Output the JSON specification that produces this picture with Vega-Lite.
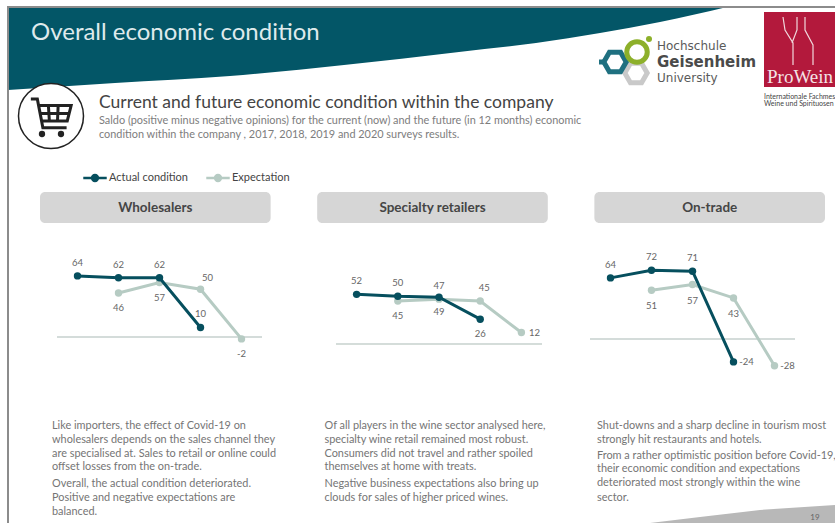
{
"$schema":"https://vega.github.io/schema/vega-lite/v6.json",
"padding":0,
"background":"white",
"spacing":0,
"config":{"view":{"stroke":null},"axis":{"disable":true},"font":"Lato","text":{"font":"Lato"}},
"datasets":{
"rows":[
{"sector":"Wholesalers","year":2017,"series":"Actual condition","value":64,"pos":"above"},
{"sector":"Wholesalers","year":2018,"series":"Actual condition","value":62,"pos":"above"},
{"sector":"Wholesalers","year":2019,"series":"Actual condition","value":62,"pos":"above"},
{"sector":"Wholesalers","year":2020,"series":"Actual condition","value":10,"pos":"above"},
{"sector":"Wholesalers","year":2018,"series":"Expectation","value":46,"pos":"below"},
{"sector":"Wholesalers","year":2019,"series":"Expectation","value":57,"pos":"below"},
{"sector":"Wholesalers","year":2020,"series":"Expectation","value":50,"pos":"upright"},
{"sector":"Wholesalers","year":2021,"series":"Expectation","value":-2,"pos":"below"},
{"sector":"Specialty retailers","year":2017,"series":"Actual condition","value":52,"pos":"above"},
{"sector":"Specialty retailers","year":2018,"series":"Actual condition","value":50,"pos":"above"},
{"sector":"Specialty retailers","year":2019,"series":"Actual condition","value":49,"pos":"below"},
{"sector":"Specialty retailers","year":2020,"series":"Actual condition","value":26,"pos":"below"},
{"sector":"Specialty retailers","year":2018,"series":"Expectation","value":45,"pos":"below"},
{"sector":"Specialty retailers","year":2019,"series":"Expectation","value":47,"pos":"above"},
{"sector":"Specialty retailers","year":2020,"series":"Expectation","value":45,"pos":"upright"},
{"sector":"Specialty retailers","year":2021,"series":"Expectation","value":12,"pos":"right"},
{"sector":"On-trade","year":2017,"series":"Actual condition","value":64,"pos":"above"},
{"sector":"On-trade","year":2018,"series":"Actual condition","value":72,"pos":"above"},
{"sector":"On-trade","year":2019,"series":"Actual condition","value":71,"pos":"above"},
{"sector":"On-trade","year":2020,"series":"Actual condition","value":-24,"pos":"right"},
{"sector":"On-trade","year":2018,"series":"Expectation","value":51,"pos":"below"},
{"sector":"On-trade","year":2019,"series":"Expectation","value":57,"pos":"below"},
{"sector":"On-trade","year":2020,"series":"Expectation","value":43,"pos":"below"},
{"sector":"On-trade","year":2021,"series":"Expectation","value":-28,"pos":"right"}
],
"sectors":[{"sector":"Wholesalers"},{"sector":"Specialty retailers"},{"sector":"On-trade"}],
"notes":[
{"sector":"Wholesalers","line":1,"text":"Like importers, the effect of Covid-19 on"},
{"sector":"Wholesalers","line":2,"text":"wholesalers depends on the sales channel they"},
{"sector":"Wholesalers","line":3,"text":"are specialised at. Sales to retail or online could"},
{"sector":"Wholesalers","line":4,"text":"offset losses from the on-trade."},
{"sector":"Wholesalers","line":5.2,"text":"Overall, the actual condition deteriorated."},
{"sector":"Wholesalers","line":6.2,"text":"Positive and negative expectations are"},
{"sector":"Wholesalers","line":7.2,"text":"balanced."},
{"sector":"Specialty retailers","line":1,"text":"Of all players in the wine sector analysed here,"},
{"sector":"Specialty retailers","line":2,"text":"specialty wine retail remained most robust."},
{"sector":"Specialty retailers","line":3,"text":"Consumers did not travel and rather spoiled"},
{"sector":"Specialty retailers","line":4,"text":"themselves at home with treats."},
{"sector":"Specialty retailers","line":5.2,"text":"Negative business expectations also bring up"},
{"sector":"Specialty retailers","line":6.2,"text":"clouds for sales of higher priced wines."},
{"sector":"On-trade","line":1,"text":"Shut-downs and a sharp decline in tourism most"},
{"sector":"On-trade","line":2,"text":"strongly hit restaurants and hotels."},
{"sector":"On-trade","line":3.15,"text":"From a rather optimistic position before Covid-19,"},
{"sector":"On-trade","line":4.15,"text":"their economic condition and expectations"},
{"sector":"On-trade","line":5.15,"text":"deteriorated most strongly within the wine"},
{"sector":"On-trade","line":6.2,"text":"sector."}
]
},
"vconcat":[
{"width":835,"height":192,
"layer":[
{"data":{"values":[{"sx":8,"sy":90},{"sx":115,"sy":83},{"sx":230,"sy":76},{"sx":344,"sy":65},{"sx":459,"sy":52},{"sx":536,"sy":43},{"sx":600,"sy":33},{"sx":660,"sy":22},{"sx":727,"sy":7}]},
 "mark":{"type":"area","color":"#035667","interpolate":"monotone"},
 "encoding":{"x":{"field":"sx","type":"quantitative","scale":{"domain":[0,835],"nice":false,"zero":false}},
 "y":{"field":"sy","type":"quantitative","scale":{"domain":[0,192],"reverse":true,"nice":false,"zero":false}},
 "y2":{"datum":7}}},
{"data":{"values":[{"part":"frame"}]},"mark":{"type":"rect","color":"#8c8c8c"},
 "encoding":{"x":{"datum":7,"type":"quantitative"},"x2":{"datum":835},"y":{"datum":6,"type":"quantitative"},"y2":{"datum":8}}},
{"data":{"values":[{"part":"frame"}]},"mark":{"type":"rect","color":"#8c8c8c"},
 "encoding":{"x":{"datum":7,"type":"quantitative"},"x2":{"datum":9},"y":{"datum":6,"type":"quantitative"},"y2":{"datum":192}}},
{"data":{"values":[{"sx":51,"sy":116}]},"mark":{"type":"point","shape":"circle","filled":true,"fill":"white","stroke":"#222222","strokeWidth":1.5,"size":4225,"opacity":1},
 "encoding":{"x":{"field":"sx","type":"quantitative"},"y":{"field":"sy","type":"quantitative"}}},
{"data":{"values":[{"sx":51,"sy":116}]},"mark":{"type":"point","shape":"M-0.62,-0.52L-0.42,-0.52L-0.25,0.36L0.48,0.36M-0.38,-0.32L0.62,-0.32L0.5,0.15L-0.29,0.15ZM-0.08,-0.32L-0.05,0.15M0.22,-0.32L0.2,0.15M-0.34,-0.08L0.57,-0.08","filled":false,"stroke":"#222222","strokeWidth":3,"size":4225,"opacity":1},
 "encoding":{"x":{"field":"sx","type":"quantitative"},"y":{"field":"sy","type":"quantitative"}}},
{"data":{"values":[{"sx":42,"sy":134},{"sx":61,"sy":134}]},"mark":{"type":"point","shape":"circle","filled":true,"color":"#222222","size":40,"opacity":1},
 "encoding":{"x":{"field":"sx","type":"quantitative"},"y":{"field":"sy","type":"quantitative"}}},
{"data":{"values":[{"sx":31,"sy":33,"label":"Overall economic condition"}]},"mark":{"type":"text","align":"left","baseline":"middle","fontSize":24,"color":"#dfeaec","font":"Lato"},
 "encoding":{"x":{"field":"sx","type":"quantitative"},"y":{"field":"sy","type":"quantitative"},"text":{"field":"label"}}},
{"data":{"values":[{"sx":99,"sy":103,"label":"Current and future economic condition within the company"}]},"mark":{"type":"text","align":"left","baseline":"middle","fontSize":17.5,"color":"#444444","font":"Lato"},
 "encoding":{"x":{"field":"sx","type":"quantitative"},"y":{"field":"sy","type":"quantitative"},"text":{"field":"label"}}},
{"data":{"values":[{"sx":99,"sy":121,"label":"Saldo (positive minus negative opinions) for the current (now) and the future (in 12 months) economic"},{"sx":99,"sy":135,"label":"condition within the company , 2017, 2018, 2019 and 2020 surveys results."}]},"mark":{"type":"text","align":"left","baseline":"middle","fontSize":10.9,"color":"#7d7d7d","font":"Lato"},
 "encoding":{"x":{"field":"sx","type":"quantitative"},"y":{"field":"sy","type":"quantitative"},"text":{"field":"label"}}},
{"data":{"values":[{"sx":636,"sy":73}]},"mark":{"type":"point","shape":"M-1,0L-0.5,-0.866L0.5,-0.866L1,0L0.5,0.866L-0.5,0.866Z","filled":false,"stroke":"#c9c9c9","strokeWidth":5,"size":500,"opacity":1},
 "encoding":{"x":{"field":"sx","type":"quantitative"},"y":{"field":"sy","type":"quantitative"}}},
{"data":{"values":[{"sx":599,"sx2":606,"sy":62}]},"mark":{"type":"rule","color":"#1f7080","strokeWidth":5},
 "encoding":{"x":{"field":"sx","type":"quantitative"},"x2":{"field":"sx2"},"y":{"field":"sy","type":"quantitative"}}},
{"data":{"values":[{"sx":615,"sy":62}]},"mark":{"type":"point","shape":"M-1,0L-0.5,-0.866L0.5,-0.866L1,0L0.5,0.866L-0.5,0.866Z","filled":false,"stroke":"#1f7080","strokeWidth":5,"size":500,"opacity":1},
 "encoding":{"x":{"field":"sx","type":"quantitative"},"y":{"field":"sy","type":"quantitative"}}},
{"data":{"values":[{"sx":637,"sy":52}]},"mark":{"type":"point","shape":"circle","filled":false,"stroke":"#8db02a","strokeWidth":5,"size":420,"opacity":1},
 "encoding":{"x":{"field":"sx","type":"quantitative"},"y":{"field":"sy","type":"quantitative"}}},
{"data":{"values":[{"sx":649,"sy":39}]},"mark":{"type":"point","shape":"circle","filled":true,"color":"#8db02a","size":36,"opacity":1},
 "encoding":{"x":{"field":"sx","type":"quantitative"},"y":{"field":"sy","type":"quantitative"}}},
{"data":{"values":[{"sx":657,"sy":46,"label":"Hochschule"},{"sx":657,"sy":78,"label":"University"}]},"mark":{"type":"text","align":"left","baseline":"middle","fontSize":12,"color":"#5a5a5a","font":"DejaVu Sans"},
 "encoding":{"x":{"field":"sx","type":"quantitative"},"y":{"field":"sy","type":"quantitative"},"text":{"field":"label"}}},
{"data":{"values":[{"sx":657,"sy":62,"label":"Geisenheim"}]},"mark":{"type":"text","align":"left","baseline":"middle","fontSize":15,"fontWeight":"bold","color":"#4a4a4a","font":"DejaVu Sans"},
 "encoding":{"x":{"field":"sx","type":"quantitative"},"y":{"field":"sy","type":"quantitative"},"text":{"field":"label"}}},
{"data":{"values":[{"sx":764,"sx2":835,"sy":12,"sy2":87}]},"mark":{"type":"rect","color":"#b3193c"},
 "encoding":{"x":{"field":"sx","type":"quantitative"},"x2":{"field":"sx2"},"y":{"field":"sy","type":"quantitative"},"y2":{"field":"sy2"}}},
{"data":{"values":[{"sx":798,"sy":40}]},"mark":{"type":"point","shape":"M-0.375,-0.575L-0.325,-0.25L-0.125,0.075L-0.125,0.625M-0.025,-0.575L-0.025,-0.25L-0.15,0.075M0.175,-0.575L0.175,-0.25L0.375,0.125L0.375,0.625","filled":false,"stroke":"#f0d8dc","strokeWidth":1.2,"size":6400,"opacity":1},
 "encoding":{"x":{"field":"sx","type":"quantitative"},"y":{"field":"sy","type":"quantitative"}}},
{"data":{"values":[{"sx":767,"sy":77,"label":"ProWein"}]},"mark":{"type":"text","align":"left","baseline":"middle","fontSize":19,"color":"#f4e3e6","font":"Liberation Serif"},
 "encoding":{"x":{"field":"sx","type":"quantitative"},"y":{"field":"sy","type":"quantitative"},"text":{"field":"label"}}},
{"data":{"values":[{"sx":764,"sy":97,"label":"Internationale Fachmess"},{"sx":764,"sy":104,"label":"Weine und Spirituosen"}]},"mark":{"type":"text","align":"left","baseline":"middle","fontSize":7,"color":"#444444","font":"Lato"},
 "encoding":{"x":{"field":"sx","type":"quantitative"},"y":{"field":"sy","type":"quantitative"},"text":{"field":"label"}}}
]},
{"width":835,"height":31,
"resolve":{"scale":{"x":"independent"}},
"layer":[
{"data":{"values":[{"part":"frame"}]},"mark":{"type":"rect","color":"#8c8c8c"},
 "encoding":{"x":{"datum":7,"type":"quantitative","scale":{"domain":[0,835],"nice":false,"zero":false}},"x2":{"datum":9}}},
{"data":{"name":"sectors"},"mark":{"type":"rect","color":"#d6d6d6","cornerRadius":5},
 "encoding":{"x":{"field":"sector","type":"nominal","sort":null,"scale":{"type":"band","domain":["Wholesalers","Specialty retailers","On-trade"],"range":[40,825],"paddingInner":0.168,"paddingOuter":0}}}},
{"data":{"name":"sectors"},"mark":{"type":"text","fontSize":13.5,"fontWeight":"bold","color":"#454545","font":"Lato"},
 "encoding":{"x":{"field":"sector","type":"nominal","sort":null,"scale":{"type":"band","domain":["Wholesalers","Specialty retailers","On-trade"],"range":[40,825],"paddingInner":0.168,"paddingOuter":0}},"text":{"field":"sector"}}}
]},
{"hconcat":[
{"width":278,"height":175,
"data":{"name":"rows"},
"transform":[{"filter":"datum.sector==='Wholesalers'"}],
"encoding":{"x":{"field":"year","type":"quantitative","scale":{"domain":[2016.5,2021.5],"range":[57,262],"nice":false,"zero":false}},
"y":{"field":"value","type":"quantitative","scale":{"domain":[-63.9,119.4],"nice":false,"zero":false}}},
"layer":[
{"mark":{"type":"rect","color":"#8c8c8c"},"encoding":{"x":{"datum":2015.281,"type":"quantitative"},"x2":{"datum":2015.33},"y":{"value":0},"y2":{"value":175}}},
{"mark":{"type":"rule","color":"#d4dcd9","strokeWidth":1.2},"encoding":{"x":{"datum":2016.5,"type":"quantitative","axis":{"disable":false,"values":[2017,2018,2019,2020,2021],"format":"d","title":null,"ticks":false,"domain":false,"grid":false,"labels":true,"labelFont":"Lato","labelFontSize":9,"labelColor":"#6e6e6e","labelPadding":0,"offset":-23}},"x2":{"datum":2021.5},"y":{"datum":0,"type":"quantitative"}}},
{"transform":[{"filter":"datum.series==='Expectation'"}],"mark":{"type":"line","strokeWidth":3,"point":{"size":55,"filled":true,"opacity":1}},
 "encoding":{"color":{"field":"series","type":"nominal","scale":{"domain":["Actual condition","Expectation"],"range":["#064f5e","#b6cbc3"]},"legend":{"orient":"none","legendX":82,"legendY":165,"direction":"horizontal","title":null,"labelFont":"Lato","labelFontSize":11,"labelColor":"#444444","symbolType":"M-1,0L-0.25,0A0.25,0.25 0 1,1 0.25,0A0.25,0.25 0 1,1 -0.25,0M0.25,0L1,0","symbolSize":550,"symbolStrokeWidth":2.5,"columnPadding":13,"labelOffset":1}}}},
{"transform":[{"filter":"datum.series==='Actual condition'"}],"mark":{"type":"line","strokeWidth":3,"point":{"size":55,"filled":true,"opacity":1}},
 "encoding":{"color":{"field":"series","type":"nominal"}}},
{"transform":[{"filter":"datum.pos==='above'"}],"mark":{"type":"text","dy":-13,"fontSize":9.5,"color":"#666666","font":"Lato"},"encoding":{"text":{"field":"value"}}},
{"transform":[{"filter":"datum.pos==='upright'"}],"mark":{"type":"text","dy":-11,"dx":7,"fontSize":9.5,"color":"#666666","font":"Lato"},"encoding":{"text":{"field":"value"}}},
{"transform":[{"filter":"datum.pos==='below'"}],"mark":{"type":"text","dy":15,"fontSize":9.5,"color":"#666666","font":"Lato"},"encoding":{"text":{"field":"value"}}},
{"transform":[{"filter":"datum.pos==='right'"}],"mark":{"type":"text","dx":13,"fontSize":9.5,"color":"#666666","font":"Lato"},"encoding":{"text":{"field":"value"}}}
]},
{"width":277,"height":175,
"data":{"name":"rows"},
"transform":[{"filter":"datum.sector==='Specialty retailers'"}],
"encoding":{"x":{"field":"year","type":"quantitative","scale":{"domain":[2016.5,2021.5],"range":[58,264],"nice":false,"zero":false}},
"y":{"field":"value","type":"quantitative","scale":{"domain":[-56.5,126.7],"nice":false,"zero":false}}},
"layer":[
{"mark":{"type":"rule","color":"#d4dcd9","strokeWidth":1.2},"encoding":{"x":{"datum":2016.5,"type":"quantitative","axis":{"disable":false,"values":[2017,2018,2019,2020,2021],"format":"d","title":null,"ticks":false,"domain":false,"grid":false,"labels":true,"labelFont":"Lato","labelFontSize":9,"labelColor":"#6e6e6e","labelPadding":0,"offset":-16}},"x2":{"datum":2021.5},"y":{"datum":0,"type":"quantitative"}}},
{"transform":[{"filter":"datum.series==='Expectation'"}],"mark":{"type":"line","strokeWidth":3,"point":{"size":55,"filled":true,"opacity":1}},
 "encoding":{"color":{"field":"series","type":"nominal","scale":{"domain":["Actual condition","Expectation"],"range":["#064f5e","#b6cbc3"]},"legend":null}}},
{"transform":[{"filter":"datum.series==='Actual condition'"}],"mark":{"type":"line","strokeWidth":3,"point":{"size":55,"filled":true,"opacity":1}},
 "encoding":{"color":{"field":"series","type":"nominal","legend":null}}},
{"transform":[{"filter":"datum.pos==='above'"}],"mark":{"type":"text","dy":-13,"fontSize":9.5,"color":"#666666","font":"Lato"},"encoding":{"text":{"field":"value"}}},
{"transform":[{"filter":"datum.pos==='upright'"}],"mark":{"type":"text","dy":-13,"dx":4,"fontSize":9.5,"color":"#666666","font":"Lato"},"encoding":{"text":{"field":"value"}}},
{"transform":[{"filter":"datum.pos==='below'"}],"mark":{"type":"text","dy":15,"fontSize":9.5,"color":"#666666","font":"Lato"},"encoding":{"text":{"field":"value"}}},
{"transform":[{"filter":"datum.pos==='right'"}],"mark":{"type":"text","dx":13,"fontSize":9.5,"color":"#666666","font":"Lato"},"encoding":{"text":{"field":"value"}}}
]},
{"width":280,"height":175,
"data":{"name":"rows"},
"transform":[{"filter":"datum.sector==='On-trade'"}],
"encoding":{"x":{"field":"year","type":"quantitative","scale":{"domain":[2016.5,2021.5],"range":[35,240],"nice":false,"zero":false}},
"y":{"field":"value","type":"quantitative","scale":{"domain":[-61.8,121.5],"nice":false,"zero":false}}},
"layer":[
{"mark":{"type":"rule","color":"#d4dcd9","strokeWidth":1.2},"encoding":{"x":{"datum":2016.5,"type":"quantitative","axis":{"disable":false,"values":[2017,2018,2019,2020,2021],"format":"d","title":null,"ticks":false,"domain":false,"grid":false,"labels":true,"labelFont":"Lato","labelFontSize":9,"labelColor":"#6e6e6e","labelPadding":0,"offset":-21}},"x2":{"datum":2021.5},"y":{"datum":0,"type":"quantitative"}}},
{"transform":[{"filter":"datum.series==='Expectation'"}],"mark":{"type":"line","strokeWidth":3,"point":{"size":55,"filled":true,"opacity":1}},
 "encoding":{"color":{"field":"series","type":"nominal","scale":{"domain":["Actual condition","Expectation"],"range":["#064f5e","#b6cbc3"]},"legend":null}}},
{"transform":[{"filter":"datum.series==='Actual condition'"}],"mark":{"type":"line","strokeWidth":3,"point":{"size":55,"filled":true,"opacity":1}},
 "encoding":{"color":{"field":"series","type":"nominal","legend":null}}},
{"transform":[{"filter":"datum.pos==='above'"}],"mark":{"type":"text","dy":-13,"fontSize":9.5,"color":"#666666","font":"Lato"},"encoding":{"text":{"field":"value"}}},
{"transform":[{"filter":"datum.pos==='below'"}],"mark":{"type":"text","dy":16,"fontSize":9.5,"color":"#666666","font":"Lato"},"encoding":{"text":{"field":"value"}}},
{"transform":[{"filter":"datum.pos==='right'"}],"mark":{"type":"text","dx":13,"fontSize":9.5,"color":"#666666","font":"Lato"},"encoding":{"text":{"field":"value"}}}
]}
],"spacing":0,"bounds":"flush"},
{"width":835,"height":125,
"resolve":{"scale":{"x":"independent","y":"independent"}},
"layer":[
{"data":{"values":[{"sx":650,"sy":523},{"sx":700,"sy":517},{"sx":760,"sy":510},{"sx":835,"sy":505}]},
 "mark":{"type":"area","color":"#b8b8b8"},
 "encoding":{"x":{"field":"sx","type":"quantitative","scale":{"domain":[0,835],"nice":false,"zero":false}},
 "y":{"field":"sy","type":"quantitative","scale":{"domain":[398,523],"reverse":true,"nice":false,"zero":false}},"y2":{"datum":523}}},
{"data":{"values":[{"part":"frame"}]},"mark":{"type":"rect","color":"#8c8c8c"},
 "encoding":{"x":{"datum":7,"type":"quantitative","scale":{"domain":[0,835],"nice":false,"zero":false}},"x2":{"datum":9}}},
{"data":{"values":[{"sx":815,"sy":518,"label":"19"}]},"mark":{"type":"text","fontSize":8,"color":"#666666","font":"Lato"},
 "encoding":{"x":{"field":"sx","type":"quantitative","scale":{"domain":[0,835],"nice":false,"zero":false}},
 "y":{"field":"sy","type":"quantitative","scale":{"domain":[398,523],"reverse":true,"nice":false,"zero":false}},"text":{"field":"label"}}},
{"data":{"name":"notes"},"mark":{"type":"text","align":"left","baseline":"middle","fontSize":10.9,"color":"#757575","font":"Lato"},
 "encoding":{"x":{"field":"sector","type":"nominal","sort":null,"scale":{"type":"point","domain":["Wholesalers","Specialty retailers","On-trade"],"range":[52,597],"padding":0}},
 "y":{"field":"line","type":"quantitative","scale":{"domain":[-1.03,8.03],"reverse":true,"nice":false,"zero":false}},"text":{"field":"text"}}}
]}
]
}
